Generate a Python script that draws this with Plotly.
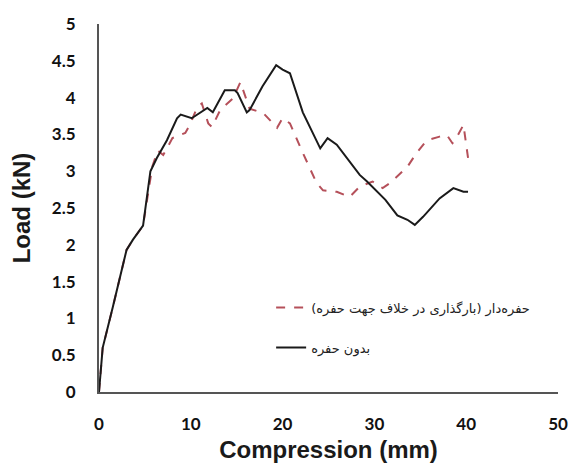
import plotly.graph_objects as go

# Data
solid_name = "بدون حفره"
solid_x = [0, 0.4, 1.5, 3.0, 3.7, 4.8, 5.6, 6.3, 7.4, 8.5, 8.9, 10.1, 11.8, 12.4, 13.7, 14.8, 15.1,
           16.1, 16.4, 17.8, 19.3, 20.0, 20.8, 22.2, 24.1, 24.9, 25.9, 28.4, 29.2, 31.2, 32.5,
           33.6, 34.4, 35.3, 37.1, 38.6, 39.7, 40.2]
solid_y = [0, 0.6, 1.15, 1.93, 2.07, 2.26, 3.0, 3.18, 3.42, 3.72, 3.77, 3.72, 3.86, 3.80, 4.10, 4.10, 4.06,
           3.80, 3.83, 4.15, 4.44, 4.38, 4.33, 3.80, 3.31, 3.45, 3.36, 2.95, 2.86, 2.61, 2.40,
           2.34, 2.27, 2.38, 2.63, 2.77, 2.72, 2.72]

dash_name = "حفره‌دار (بارگذاری در خلاف جهت حفره)"
dash_x = [0, 0.4, 1.5, 3.0, 3.7, 4.8, 5.8, 6.4, 7.0, 8.0, 9.4, 9.9, 10.7, 11.2, 11.9, 12.3, 13.2,
          14.6, 15.4, 16.1, 16.4, 17.9, 19.4, 20.0, 20.8, 22.2, 23.7, 24.4, 25.9, 27.3, 28.4,
          29.8, 30.9, 31.7, 33.6, 34.6, 35.7, 37.1, 37.9, 38.5, 38.8, 39.7, 40.2]
dash_y = [0, 0.6, 1.15, 1.93, 2.07, 2.26, 3.06, 3.28, 3.22, 3.45, 3.52, 3.63, 3.87, 3.92, 3.65, 3.60, 3.83,
          3.99, 4.21, 3.94, 3.85, 3.79, 3.59, 3.72, 3.65, 3.25, 2.84, 2.74, 2.72, 2.65, 2.79,
          2.86, 2.77, 2.84, 3.06, 3.25, 3.42, 3.47, 3.49, 3.38, 3.42, 3.63, 3.18]

x_ticks = [0, 10, 20, 30, 40, 50]
y_ticks = [0, 0.5, 1, 1.5, 2, 2.5, 3, 3.5, 4, 4.5, 5]
y_tick_text = ["0", "0.5", "1", "1.5", "2", "2.5", "3", "3.5", "4", "4.5", "5"]

fig = go.Figure()
fig.add_trace(go.Scatter(x=dash_x, y=dash_y, mode="lines", name=dash_name,
                         legendgroup="a",
                         line=dict(color="#b5505a", width=2, dash="dash")))
fig.add_trace(go.Scatter(x=solid_x, y=solid_y, mode="lines", name=solid_name,
                         legendgroup="b",
                         line=dict(color="#1a1a1a", width=2)))

tick_font = dict(family="Lato", size=17, color="#111", weight="bold")
title_font = dict(family="Liberation Sans", size=24, color="#1a1a1a", weight="bold")

fig.update_layout(
    width=571, height=473,
    margin=dict(l=99, r=13, t=24, b=81, autoexpand=False),
    paper_bgcolor="white", plot_bgcolor="white",
    showlegend=True,
    legend=dict(x=0.375, y=0.27, xanchor="left", yanchor="top",
                bgcolor="rgba(0,0,0,0)", traceorder="grouped", tracegroupgap=20,
                itemwidth=30,
                font=dict(family="DejaVu Sans", size=13, color="#222")),
    xaxis=dict(range=[0, 50], tickvals=x_ticks, showgrid=False, zeroline=False,
               showline=True, linecolor="#555", linewidth=2, ticks="",
               ticklabelstandoff=16, tickfont=tick_font,
               title=dict(text="Compression (mm)", font=title_font, standoff=8)),
    yaxis=dict(range=[0, 5], tickvals=y_ticks, ticktext=y_tick_text, showgrid=False, zeroline=False,
               showline=True, linecolor="#555", linewidth=2, ticks="",
               ticklabelstandoff=18, tickfont=tick_font,
               title=dict(text="Load (kN)", font=title_font, standoff=14)),
)

fig.write_html("out.html")
